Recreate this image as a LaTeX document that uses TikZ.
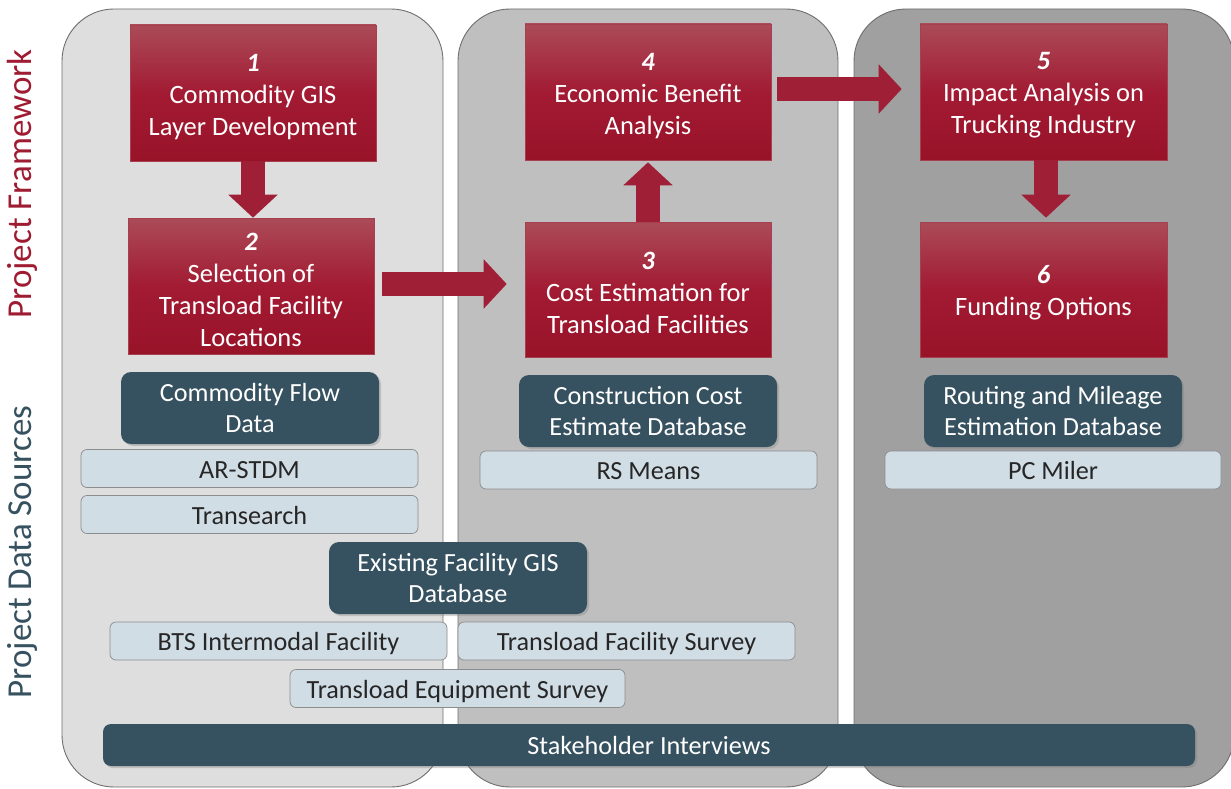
\documentclass[tikz,border=0pt]{standalone}
\usepackage{fontspec}
\setmainfont{Carlito}
\usetikzlibrary{arrows.meta,shadows,calc}
\definecolor{redtop}{HTML}{AB4B58}
\definecolor{redmid}{HTML}{A21B33}
\definecolor{redbot}{HTML}{981228}
\definecolor{redarrow}{HTML}{9E1F36}
\definecolor{darkbox}{HTML}{36515F}
\definecolor{lightbox}{HTML}{D1DDE5}
\definecolor{pone}{HTML}{DEDEDE}
\definecolor{ptwo}{HTML}{BFBFBF}
\definecolor{pthree}{HTML}{A0A0A0}
\definecolor{pborder}{HTML}{6E6E6E}
\definecolor{txtdark}{HTML}{262626}
\definecolor{labred}{HTML}{9E1B32}
\newcommand\stepnum[1]{\rule{0pt}{24.5pt}{\bfseries\itshape #1}}
\begin{document}
\begin{tikzpicture}[x=1pt,y=-1pt,
  panel/.style={draw=pborder,line width=0.9pt,rounded corners=52pt},
  redbox/.style={draw=redtop!80!redbot,line width=0.6pt,top color=redtop,bottom color=redbot,middle color=redmid,
    minimum width=246pt,minimum height=136pt,inner sep=0pt,text=white,align=center,
    font=\fontsize{26.5}{32}\selectfont},
  darkbx/.style={fill=darkbox,rounded corners=10pt,minimum width=258pt,minimum height=72pt,inner sep=0pt,
    text=white,align=center,font=\fontsize{26.2}{31}\selectfont,
    drop shadow={shadow xshift=2pt,shadow yshift=-2pt,opacity=0.35}},
  lightbx/.style={fill=lightbox,draw=gray!90,line width=0.7pt,rounded corners=6pt,minimum width=337pt,minimum height=38pt,
    inner sep=0pt,text=txtdark,font=\fontsize{26.2}{30}\selectfont,text height=22pt,text depth=3pt},
  blockarrow/.style={draw=redarrow,line width=24pt,-{Triangle[width=48pt,length=23pt]}},
  sidelab/.style={rotate=90,font=\fontsize{35}{40}\selectfont}
]
\useasboundingbox (0,0) rectangle (1231,789);
\clip (0,0) rectangle (1231,789);
% panels
\draw[panel,fill=pthree] (854,9) rectangle (1234,787);
\draw[panel,fill=ptwo] (458,9) rectangle (838,787);
\draw[panel,fill=pone] (62,9) rectangle (443,787);
% side labels
\node[sidelab,text=labred] (lpf) at (22,184) {Project Framework};
\node[sidelab,text=darkbox] (lpd) at (22,552) {Project Data Sources};
% red boxes
\node[redbox] (b1) at (253,93) {\stepnum{1}\\Commodity GIS\\Layer Development};
\node[redbox] (b2) at (251,286) {\stepnum{2}\\Selection of\\Transload Facility\\Locations};
\node[redbox] (b4) at (648,92) {\stepnum{4}\\Economic Benefit\\Analysis};
\node[redbox,minimum height=135pt] (b3) at (648,289.5) {\stepnum{3}\\Cost Estimation for\\Transload Facilities};
\node[redbox,minimum width=247pt] (b5) at (1043.5,92) {\stepnum{5}\\Impact Analysis on\\Trucking Industry};
\node[redbox,minimum width=247pt,minimum height=135pt] (b6) at (1043.5,289.5) {\stepnum{6}\\Funding Options};
% arrows
\draw[blockarrow] (b1.south) -- (b1.south |- b2.north);
\draw[blockarrow] (b3.north) -- ([yshift=-2pt]b3.north |- b4.south);
\draw[blockarrow] ([xshift=8pt,yshift=2pt]b2.east) -- ([xshift=-18pt,yshift=2pt]b2.east -| b3.west);
\draw[blockarrow] ([xshift=6pt,yshift=3pt]b4.east) -- ([xshift=-18pt,yshift=3pt]b4.east -| b5.west);
\draw[blockarrow] ([xshift=2.5pt]b5.south) -- ([xshift=2.5pt,yshift=4pt]b5.south |- b6.north);
% dark boxes
\node[darkbx] (cfd) at (250,408) {Commodity Flow\\Data};
\node[darkbx] (ccd) at (648,411) {Construction Cost\\Estimate Database};
\node[darkbx] (rmd) at (1053,411) {Routing and Mileage\\Estimation Database};
% light boxes
\node[lightbx] (ar) at (249.5,468.5) {AR-STDM};
\node[lightbx] (tr) at (249.5,514.5) {Transearch};
\node[lightbx] (rs) at (648.5,470) {RS Means};
\node[lightbx,minimum width=336pt] (pc) at (1053,470) {PC Miler};
\node[darkbx] (efg) at (458,578) {Existing Facility GIS\\Database};
\node[lightbx] (bts) at (278.5,641) {BTS Intermodal Facility};
\node[lightbx] (tfs) at (626.5,641) {Transload Facility Survey};
\node[lightbx,minimum width=335pt] (tes) at (457.5,688.5) {Transload Equipment Survey};
\node[darkbx,minimum width=1092pt,minimum height=42pt,rounded corners=8pt] (stk) at (649,745) {Stakeholder Interviews};
\end{tikzpicture}
\end{document}
